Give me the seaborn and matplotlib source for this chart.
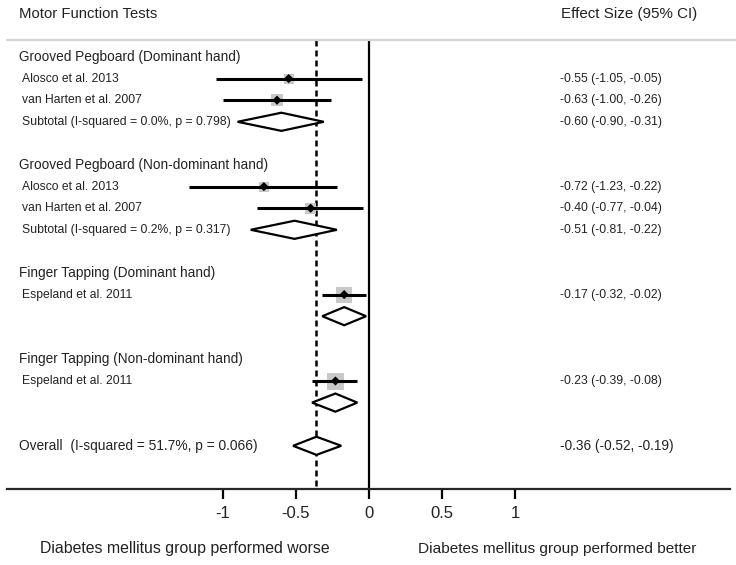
import matplotlib
matplotlib.use("Agg")
import matplotlib.pyplot as plt
import seaborn as sns
import pandas as pd
import numpy as np

# data
groups = ["Grooved Pegboard (Dominant hand)",
          "Grooved Pegboard (Non-dominant hand)",
          "Finger Tapping (Dominant hand)",
          "Finger Tapping (Non-dominant hand)"]
studies = ["Alosco et al. 2013", "van Harten et al. 2007",
           "Alosco et al. 2013", "van Harten et al. 2007",
           "Espeland et al. 2011", "Espeland et al. 2011"]
study_group = [0, 0, 1, 1, 2, 3]
study_est = [-0.55, -0.63, -0.72, -0.40, -0.17, -0.23]
study_lo = [-1.05, -1.00, -1.23, -0.77, -0.32, -0.39]
study_hi = [-0.05, -0.26, -0.22, -0.04, -0.02, -0.08]
study_box = [10, 12, 10, 11, 16, 17]   # weight box width (px)

sub_labels = ["Subtotal (I-squared = 0.0%, p = 0.798)",
              "Subtotal (I-squared = 0.2%, p = 0.317)", "", ""]
sub_est = [-0.60, -0.51, -0.17, -0.23]
sub_lo = [-0.90, -0.81, -0.32, -0.39]
sub_hi = [-0.31, -0.22, -0.02, -0.08]
sub_show_text = [True, True, False, False]

overall_label = "Overall  (I-squared = 51.7%, p = 0.066)"
overall_est, overall_lo, overall_hi = -0.36, -0.52, -0.19

ticks = [-1, -0.5, 0, 0.5, 1]
tick_labels = ["-1", "-0.5", "0", "0.5", "1"]

# ---- row layout ----
rows_header, rows_study, rows_sub = [], [], []
r = 0
for g in range(len(groups)):
    rows_header.append(r)
    r += 1
    for i, sg in enumerate(study_group):
        if sg == g:
            rows_study.append(r)
            r += 1
    rows_sub.append(r)
    r += 2
row_overall = r
row_axis = r + 2

df = pd.DataFrame({"study": studies, "est": study_est, "lo": study_lo,
                   "hi": study_hi, "row": rows_study,
                   "box": study_box})
size_map = {b: (b * 0.72) ** 2 for b in set(study_box)}

sns.set_style("white")
plt.rcParams['font.family'] = ['Liberation Sans', 'DejaVu Sans']
txt_color = "#222222"

fig = plt.figure(figsize=(7.36, 5.65), dpi=100)
ax = fig.add_axes([0, 0, 1, 1])
px_per_unit = 146.0
x0 = 369.0
ax.set_xlim(-x0 / px_per_unit, (736 - x0) / px_per_unit)
rowh = 21.6
ax.set_ylim((565 - 57) / rowh, -57 / rowh)

tf = ax.get_yaxis_transform()  # x axes fraction, y data rows

# reference lines
top_row = (40 - 57) / rowh
ax.plot([0, 0], [top_row, row_axis], color="black", lw=1.6)
ax.plot([overall_est, overall_est], [top_row, row_axis], color="black",
        lw=1.8, dashes=(2.4, 1.6))
ax.plot([7 / 736, 1], [top_row, top_row], transform=tf, color="#d4d4d4",
        lw=1.6, clip_on=False)

# weight boxes, CI lines and point estimates
sns.scatterplot(data=df, x="est", y="row", marker="s", size="box",
                sizes=size_map, color="#c8c8c8", edgecolor="none", ax=ax,
                zorder=2, legend=False)
ax.hlines(df["row"], df["lo"], df["hi"], color="black", lw=2.2, zorder=3)
sns.scatterplot(data=df, x="est", y="row", marker="D", s=22, color="black",
                edgecolor="none", ax=ax, zorder=4, legend=False)


def diamond(est, lo, hi, row):
    h = 0.42
    ax.fill([lo, est, hi, est, lo], [row, row - h, row, row + h, row],
            facecolor="white", edgecolor="black", lw=1.6, zorder=5)


for i in range(len(groups)):
    diamond(sub_est[i], sub_lo[i], sub_hi[i], rows_sub[i])
diamond(overall_est, overall_lo, overall_hi, row_overall)

# text columns
ax.text(19 / 736, -2, "Motor Function Tests", transform=tf, fontsize=10.7,
        va="center", ha="left", color=txt_color)
ax.text(561 / 736, -2, "Effect Size (95% CI)", transform=tf, fontsize=10.9,
        va="center", ha="left", color=txt_color)
for g, rr in zip(groups, rows_header):
    ax.text(19 / 736, rr, g, transform=tf, fontsize=9.8, va="center",
            color=txt_color)
for s, rr, e, l, h in zip(studies, rows_study, study_est, study_lo, study_hi):
    ax.text(22 / 736, rr, s, transform=tf, fontsize=8.7, va="center",
            color=txt_color)
    ax.text(560 / 736, rr, f"{e:.2f} ({l:.2f}, {h:.2f})", transform=tf,
            fontsize=8.85, va="center", color=txt_color)
for i in range(len(groups)):
    if sub_labels[i]:
        ax.text(22 / 736, rows_sub[i], sub_labels[i], transform=tf,
                fontsize=8.8, va="center", color=txt_color)
    if sub_show_text[i]:
        ax.text(560 / 736, rows_sub[i],
                f"{sub_est[i]:.2f} ({sub_lo[i]:.2f}, {sub_hi[i]:.2f})",
                transform=tf, fontsize=8.85, va="center", color=txt_color)
ax.text(19 / 736, row_overall, overall_label, transform=tf, fontsize=9.9,
        va="center", color=txt_color)
ax.text(560 / 736, row_overall,
        f"{overall_est:.2f} ({overall_lo:.2f}, {overall_hi:.2f})",
        transform=tf, fontsize=9.8, va="center", color=txt_color)

# x axis drawn at the bottom row
for side in ["top", "left", "right"]:
    ax.spines[side].set_visible(False)
ax.spines["bottom"].set_position(("data", row_axis))
ax.spines["bottom"].set_bounds((7 - x0) / px_per_unit, (730 - x0) / px_per_unit)
ax.spines["bottom"].set_linewidth(1.6)
ax.set_xticks(ticks)
ax.set_xticklabels(tick_labels)
ax.tick_params(axis="x", bottom=True, direction="out", length=7.5, width=1.6,
               pad=5, labelsize=12, colors="black", labelcolor=txt_color)
ax.set_yticks([])
ax.set_xlabel("")
ax.set_ylabel("")

label_row = (549 - 57) / rowh
ax.text(185 / 736, label_row, "Diabetes mellitus group performed worse",
        transform=tf, fontsize=11.4, ha="center", va="center", color=txt_color)
ax.text(557 / 736, label_row, "Diabetes mellitus group performed better",
        transform=tf, fontsize=11.1, ha="center", va="center", color=txt_color)

fig.savefig("out.png", dpi=100)
